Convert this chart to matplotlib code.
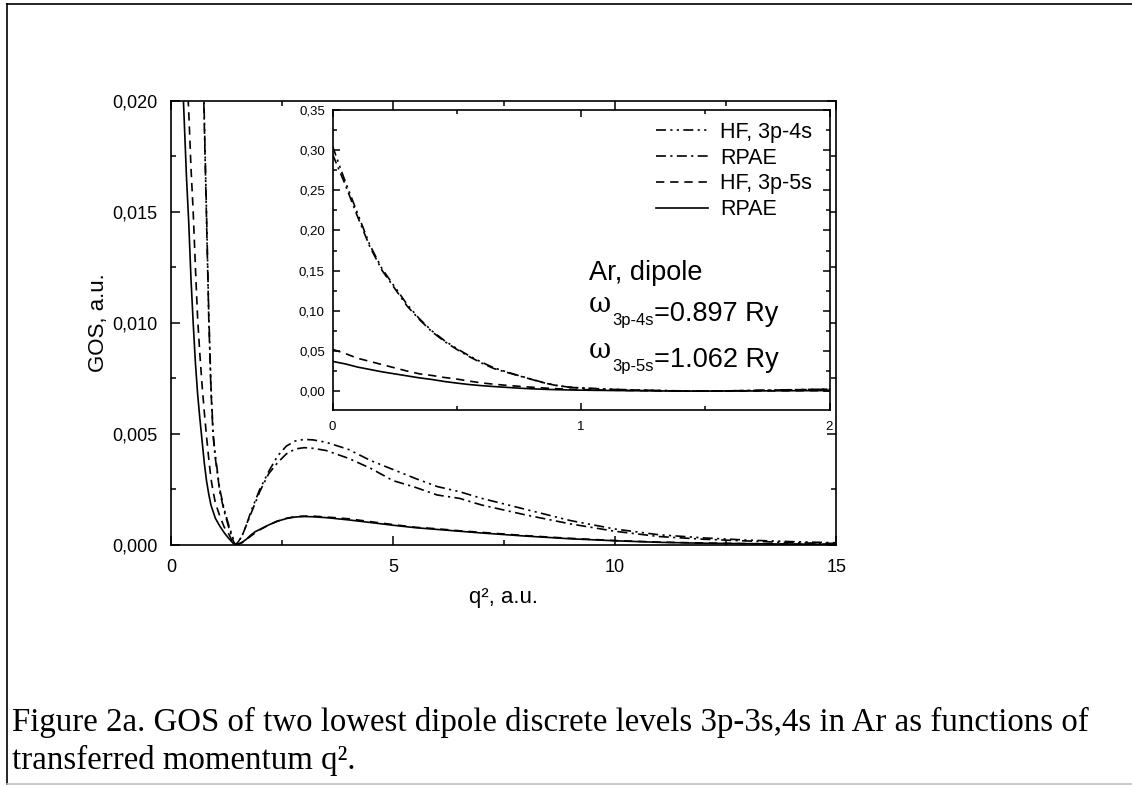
import matplotlib
matplotlib.use("Agg")
import matplotlib.pyplot as plt
from matplotlib.ticker import FuncFormatter, MultipleLocator
from matplotlib.lines import Line2D

plt.rcParams['font.family'] = ['Liberation Sans', 'DejaVu Sans']

# ---------------- data ----------------
q2 = [0, 0.05, 0.1, 0.15, 0.2, 0.25, 0.3, 0.35, 0.4, 0.45, 0.5, 0.55, 0.6, 0.65,
      0.7, 0.75, 0.8, 0.85, 0.9, 0.95, 1.0, 1.1, 1.2, 1.3, 1.4, 1.45, 1.5, 1.6,
      1.7, 1.8, 1.9, 2.0, 2.2, 2.4, 2.6, 2.8, 3.0, 3.2, 3.5, 4.0, 4.5, 5.0, 5.5,
      6.0, 6.5, 7.0, 8.0, 9.0, 10.0, 11.0, 12.0, 13.0, 14.0, 15.0]

hf_4s = [0.305, 0.262, 0.222, 0.182, 0.152, 0.130, 0.108, 0.090, 0.075, 0.063,
         0.053, 0.044, 0.036, 0.029, 0.024, 0.0193, 0.0150, 0.0105, 0.0072,
         0.0050, 0.0040, 0.0025, 0.0016, 0.0009, 0.0003, 0.0, 0.0001, 0.0004,
         0.0009, 0.0015, 0.0020, 0.0025, 0.0033, 0.0040, 0.00445, 0.00468,
         0.00475, 0.00473, 0.00462, 0.0043, 0.0038, 0.0034, 0.0030, 0.00263,
         0.0024, 0.0021, 0.0016, 0.0011, 0.00072, 0.00046, 0.00032, 0.00022,
         0.00015, 0.0001]

rpae_4s = [0.295, 0.258, 0.218, 0.180, 0.150, 0.128, 0.106, 0.089, 0.074, 0.062,
           0.052, 0.043, 0.035, 0.028, 0.0235, 0.019, 0.0147, 0.0103, 0.0070,
           0.0049, 0.0039, 0.0024, 0.0015, 0.0008, 0.0002, 0.0, 0.0001, 0.0004,
           0.0009, 0.0014, 0.0019, 0.0024, 0.0032, 0.0037, 0.0041, 0.00432,
           0.00438, 0.00435, 0.00425, 0.0039, 0.00345, 0.0029, 0.0026, 0.00225,
           0.0021, 0.0018, 0.00135, 0.00095, 0.00062, 0.00038, 0.00026,
           0.00018, 0.0001, 0.00007]

hf_5s = [0.052, 0.047, 0.041, 0.037, 0.033, 0.029, 0.025, 0.0215, 0.0195, 0.017,
         0.015, 0.0125, 0.0102, 0.0086, 0.0072, 0.0060, 0.0049, 0.0039, 0.0030,
         0.0024, 0.0019, 0.0013, 0.0008, 0.0005, 0.0001, 0.0, 0.00002, 0.0001,
         0.00025, 0.0004, 0.00055, 0.00068, 0.0009, 0.00108, 0.0012, 0.00128,
         0.0013, 0.0013, 0.00126, 0.00118, 0.00105, 0.00092, 0.0008, 0.00073,
         0.00064, 0.00057, 0.00042, 0.0003, 0.0002, 0.00013, 0.00009, 0.00006,
         0.00004, 0.00003]

rpae_5s = [0.037, 0.034, 0.030, 0.027, 0.024, 0.0215, 0.019, 0.0165, 0.0145,
           0.012, 0.0100, 0.0082, 0.0068, 0.0057, 0.0047, 0.0037, 0.0029, 0.0023,
           0.0018, 0.0015, 0.0012, 0.00085, 0.00055, 0.0003, 0.00008, 0.0, 0.00003,
           0.00012, 0.00026, 0.00045, 0.0006, 0.0007, 0.0009, 0.00107, 0.00119,
           0.00126, 0.00128, 0.00127, 0.00123, 0.00113, 0.00101, 0.00089,
           0.00078, 0.0007, 0.00062, 0.00054, 0.0004, 0.00028, 0.00019, 0.00012,
           0.00008, 0.00006, 0.00004, 0.00003]

labels = ["HF, 3p-4s", "RPAE", "HF, 3p-5s", "RPAE"]
main_yticks = [0.0, 0.005, 0.010, 0.015, 0.020]
main_xticks = [0, 5, 10, 15]
inset_yticks = [0.0, 0.05, 0.10, 0.15, 0.20, 0.25, 0.30, 0.35]
inset_xticks = [0, 1, 2]

caption1 = "Figure 2a. GOS of two lowest dipole discrete levels 3p-3s,4s in Ar as functions of"
caption2 = "transferred momentum q\u00b2."

# ---------------- styles ----------------
W, H = 1132, 785
lw = 1.2
styles = [
    dict(color='black', lw=lw, ls=(0, (6, 2.6, 1.3, 2.6, 1.3, 2.6))),
    dict(color='black', lw=lw, ls=(0, (6, 2.6, 1.3, 2.6))),
    dict(color='black', lw=lw, ls=(0, (5, 3.5))),
    dict(color='black', lw=lw, ls='-'),
]
series = [hf_4s, rpae_4s, hf_5s, rpae_5s]

fig = plt.figure(figsize=(W / 100, H / 100), dpi=100)
fig.patch.set_facecolor('white')


def px_axes(l, t, r, b):
    return [l / W, 1 - b / H, (r - l) / W, (b - t) / H]


def style_ticks(ax, major, minor, labsize):
    ax.tick_params(which='both', direction='in', top=True, right=True,
                   width=1.1, labelsize=labsize, colors='black')
    ax.tick_params(which='major', length=major)
    ax.tick_params(which='minor', length=minor)
    for s in ax.spines.values():
        s.set_linewidth(1.2)


# ---------------- main axes ----------------
ML, MT, MR, MB = 171, 100.5, 836.5, 545
ax = fig.add_axes(px_axes(ML, MT, MR, MB))
for y, st in zip(series, styles):
    ax.plot(q2, y, **st)
ax.set_xlim(0, 15)
ax.set_ylim(0, 0.020)
ax.set_xticks(main_xticks)
ax.set_yticks(main_yticks)
ax.xaxis.set_minor_locator(MultipleLocator(2.5))
ax.yaxis.set_minor_locator(MultipleLocator(0.0025))
ax.yaxis.set_major_formatter(FuncFormatter(lambda v, p: f"{v:.3f}".replace('.', ',')))
ax.xaxis.set_major_formatter(FuncFormatter(lambda v, p: f"{v:g}"))
style_ticks(ax, 6.5, 3.5, 13)
ax.tick_params(axis='x', pad=10)
ax.tick_params(axis='y', pad=9.5)
ax.set_ylabel("GOS, a.u.", fontsize=16, va='center')
ax.set_xlabel("q\u00b2, a.u.", fontsize=16, va='center')
ax.yaxis.set_label_coords((98 - ML) / (MR - ML), 0.5)
ax.xaxis.set_label_coords(0.5, -(598 - MB) / (MB - MT))

# ---------------- inset ----------------
IL, IT, IR, IB = 332.5, 110, 829.5, 410
ins = fig.add_axes(px_axes(IL, IT, IR, IB))
ins.set_facecolor('white')
handles = []
for y, st, lab in zip(series, styles, labels):
    h, = ins.plot(q2, y, label=lab, **st)
    handles.append(h)
ins.set_xlim(0, 2)
ins.set_ylim(-0.0235, 0.35)
ins.set_xticks(inset_xticks)
ins.set_yticks(inset_yticks)
ins.xaxis.set_minor_locator(MultipleLocator(0.5))
ins.yaxis.set_minor_locator(MultipleLocator(0.025))
ins.yaxis.set_major_formatter(FuncFormatter(lambda v, p: f"{v:.2f}".replace('.', ',')))
ins.xaxis.set_major_formatter(FuncFormatter(lambda v, p: f"{v:g}"))
style_ticks(ins, 5, 2.8, 9.5)
ins.tick_params(axis='x', pad=8)
ins.tick_params(axis='y', pad=5.5)

leg = ins.legend(handles=handles, loc='upper right',
                 bbox_to_anchor=((812 - IL) / (IR - IL), (IB - 122) / (IB - IT)),
                 frameon=False, fontsize=15.5, handlelength=2.4,
                 handletextpad=0.55, labelspacing=0.22, borderpad=0,
                 borderaxespad=0)

# annotation texts
tx = (589 - IL) / (IR - IL)
ins.text(tx, (IB - 280) / (IB - IT), "Ar, dipole", transform=ins.transAxes,
         fontsize=19.5, va='baseline', ha='left')
for yb, sub, rest in [(312, "3p-4s", "=0.897 Ry"), (358, "3p-5s", "=1.062 Ry")]:
    t1 = ins.text(tx, (IB - yb) / (IB - IT), "\u03c9", transform=ins.transAxes,
                  fontsize=19.5, va='baseline', ha='left',
                  family=['DejaVu Serif'])
    t2 = ins.annotate(sub, xy=(1.0, 0.0), xycoords=t1, xytext=(0.5, -5),
                      textcoords='offset points', fontsize=12,
                      va='baseline', ha='left')
    ins.annotate(rest, xy=(1.0, 0.0), xycoords=t2, xytext=(0.5, 5),
                 textcoords='offset points', fontsize=19.5,
                 va='baseline', ha='left')

# ---------------- page decorations ----------------
fig.add_artist(Line2D([7 / W, 7 / W], [0, 1 - 4 / H], transform=fig.transFigure,
                      color='black', lw=1.2))
fig.add_artist(Line2D([7 / W, 1], [1 - 4 / H, 1 - 4 / H], transform=fig.transFigure,
                      color='black', lw=1.2))
fig.add_artist(Line2D([7 / W, 1], [1 / H, 1 / H], transform=fig.transFigure,
                      color='#c0c0c0', lw=1.2))

fig.text(12 / W, 1 - 731 / H, caption1, fontsize=23.7, family=['Liberation Serif'],
         va='baseline', ha='left')
fig.text(12 / W, 1 - 769 / H, caption2, fontsize=23.7, family=['Liberation Serif'],
         va='baseline', ha='left')

fig.savefig("out.png", dpi=100, facecolor='white')
